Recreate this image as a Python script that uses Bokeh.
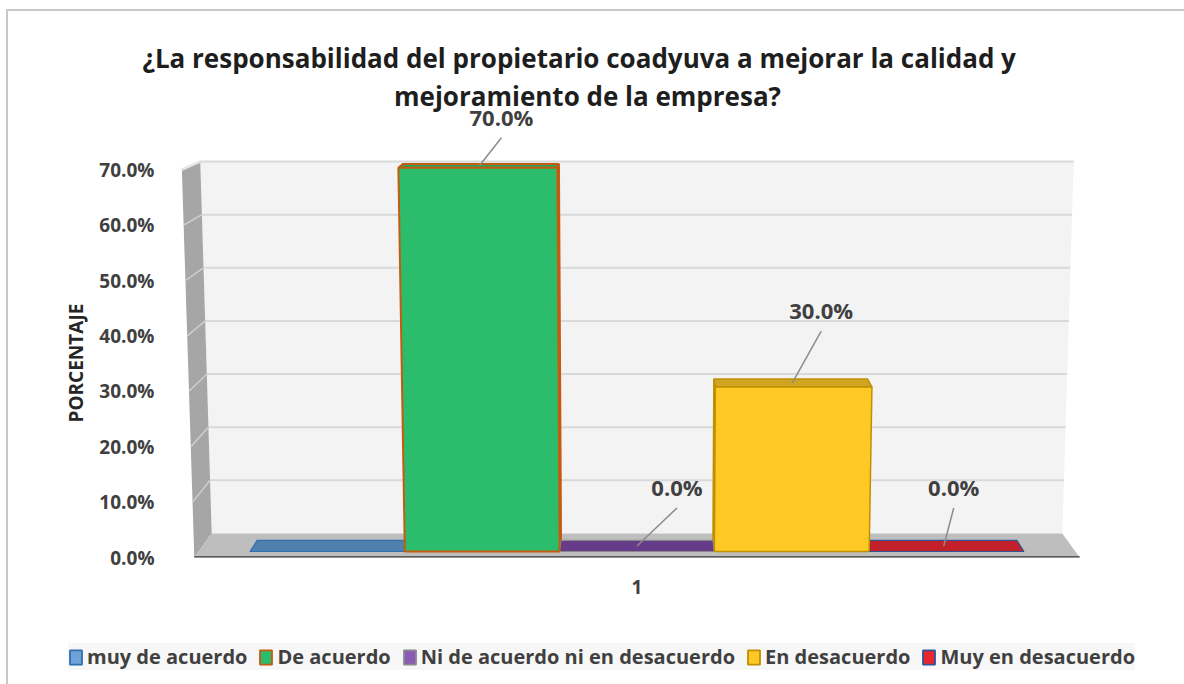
import math
from bokeh.plotting import figure
from bokeh.layouts import column
from bokeh.models import (ColumnDataSource, Range1d, FixedTicker, NumeralTickFormatter,
                          Legend, LegendItem, Title)
from bokeh.core.properties import value
from bokeh.embed import file_html
from bokeh.resources import INLINE

# ---------------- data ----------------
title_line1 = "¿La responsabilidad  del propietario coadyuva a mejorar la calidad y"
title_line2 = "mejoramiento de la empresa?"
categories = ["muy de acuerdo", "De acuerdo", "Ni de acuerdo ni en desacuerdo",
              "En desacuerdo", "Muy en desacuerdo"]
values = [0.0, 0.70, 0.0, 0.30, 0.0]
x_category_label = "1"
y_ticks = [0.0, 0.1, 0.2, 0.3, 0.4, 0.5, 0.6, 0.7]
y_axis_title = "PORCENTAJE"

# ---------------- styles ----------------
front_fill = ["#6fa3d8", "#2bbd6b", "#8b5bb5", "#ffc925", "#e8262c"]
top_fill = ["#5080ae", "#21a95b", "#663b8a", "#d1a423", "#c2202b"]
side_fill = ["#4a77a3", "#1f9a53", "#5a3379", "#e0ad14", "#a81c25"]
edge_color = ["#2e6fb3", "#c55a11", "#8a8a8a", "#bf9000", "#2f5597"]
edge_width = [1.2, 2.0, 1.2, 1.5, 1.2]
show_label = [False, True, True, True, True]
label_offset_px = [(0, -60), (22, -49), (40, -59), (29, -73), (10, -59)]
FONT = "Open Sans"
TXT = "#404040"
FRAME_LINE = "#c8c8c8"

# ---------------- 3-D projection (page pixels) ----------------
PX_X0, PX_W = 245.0, 156.6      # front plane: slot 0 left edge, px per slot
PX_Y0, PX_S = 557.0, 554.0      # front plane: value 0, px per unit value
n = len(values)
VX = PX_X0 + n / 2 * PX_W
VY = -30.0
K = 0.041
A = 7.24e-5
YREF = 532.0
BAR_Z = (0.25, 0.71)
FLOOR_X = (-0.332, n + 0.332)
WALL_TOP = max(y_ticks)

W, H1, H2 = 1184, 630, 54
FRAME_L, FRAME_R, FRAME_T, FRAME_B = 172.0, 1092.0, 78.0, 557.0


def to_data(px, py):
    return (px - PX_X0) / PX_W, (PX_Y0 - py) / PX_S


def proj(x, v, z):
    xf = PX_X0 + x * PX_W
    yf = PX_Y0 - v * PX_S
    s = 1 - K * z
    xp = VX + (xf - VX) * s
    yp = VY + (yf - VY) * s
    xs = VX + (xp - VX) * (1 + A * (YREF - yp))
    return to_data(xs, yp)


def poly(pts):
    P = [proj(*q) for q in pts]
    return [a for a, b in P], [b for a, b in P]


p = figure(width=W, height=H1,
           x_range=Range1d((FRAME_L - PX_X0) / PX_W, (FRAME_R - PX_X0) / PX_W),
           y_range=Range1d(0, (PX_Y0 - FRAME_T) / PX_S),
           output_backend="svg", toolbar_location=None,
           min_border_left=int(FRAME_L), min_border_right=int(W - FRAME_R),
           min_border_top=int(FRAME_T), min_border_bottom=int(H1 - FRAME_B))
p.frame_align = False
p.grid.visible = False
p.outline_line_color = None
p.background_fill_color = "white"
p.border_fill_color = None

xl, xr = FLOOR_X
# back wall
bx, by = poly([(xl, 0, 1), (xr, 0, 1), (xr, WALL_TOP, 1), (xl, WALL_TOP, 1)])
p.patch(bx, by, fill_color="#f3f3f3", line_color=None)
g0 = [proj(xl, t, 1) for t in y_ticks[1:]]
g1 = [proj(xr, t, 1) for t in y_ticks[1:]]
p.segment([a[0] for a in g0], [a[1] for a in g0], [b[0] for b in g1], [b[1] for b in g1],
          line_color="#d9d9d9", line_width=2)
# left wall
lx, ly = poly([(xl, 0, 0), (xl, 0, 1), (xl, WALL_TOP, 1), (xl, WALL_TOP, 0)])
p.patch(lx, ly, fill_color="#a6a6a6", line_color=None)
w0 = [proj(xl, t, 0) for t in y_ticks[1:]]
w1 = [proj(xl, t, 1) for t in y_ticks[1:]]
p.segment([a[0] for a in w0], [a[1] for a in w0], [b[0] for b in w1], [b[1] for b in w1],
          line_color="#cfcfcf", line_width=1.5)
tx0, ty0 = proj(xl, WALL_TOP, 0)
tx1, ty1 = proj(xl, WALL_TOP, 1)
p.segment([tx0], [ty0], [tx1], [ty1], line_color="#e4e4e4", line_width=2.5)
# floor
fx, fy = poly([(xl, 0, 0), (xr, 0, 0), (xr, 0, 1), (xl, 0, 1)])
p.patch(fx, fy, fill_color="#bebebe", line_color=None)

# bars
z0, z1 = BAR_Z
side_xs, side_ys, top_xs, top_ys, fr_xs, fr_ys = [], [], [], [], [], []
for i, v in enumerate(values):
    a, b = i, i + 1
    if PX_X0 + b * PX_W <= VX:
        sx, sy = poly([(b, 0, z0), (b, 0, z1), (b, v, z1), (b, v, z0)])
    else:
        sx, sy = poly([(a, 0, z0), (a, 0, z1), (a, v, z1), (a, v, z0)])
    side_xs.append(sx); side_ys.append(sy)
    t_x, t_y = poly([(a, v, z0), (b, v, z0), (b, v, z1), (a, v, z1)])
    top_xs.append(t_x); top_ys.append(t_y)
    f_x, f_y = poly([(a, 0, z0), (b, 0, z0), (b, v, z0), (a, v, z0)])
    fr_xs.append(f_x); fr_ys.append(f_y)

src_side = ColumnDataSource(dict(xs=side_xs, ys=side_ys, fill=side_fill, line=edge_color, lw=edge_width))
src_top = ColumnDataSource(dict(xs=top_xs, ys=top_ys, fill=top_fill, line=edge_color, lw=edge_width))
src_front = ColumnDataSource(dict(xs=fr_xs, ys=fr_ys, fill=front_fill, line=edge_color, lw=edge_width))
p.patches("xs", "ys", source=src_side, fill_color="fill", line_color="line", line_width="lw")
p.patches("xs", "ys", source=src_top, fill_color="fill", line_color="line", line_width="lw")
p.patches("xs", "ys", source=src_front, fill_color="fill", line_color="line", line_width="lw")

# base line (front edge of floor)
bl0 = proj(xl, 0, 0)
bl1 = proj(xr, 0, 0)
p.segment([bl0[0]], [bl0[1]], [bl1[0]], [bl1[1]], line_color="#3b3b3b", line_width=2.5)

# second title line (inside the frame, drawn before the data labels)
tx, ty = to_data(587, 95)
p.text([tx], [ty], text=[title_line2], text_font=value(FONT), text_font_style="bold",
       text_font_size="26px", text_color="#1e1e1e", text_align="center", text_baseline="middle")

# data labels with leader lines
lab_x, lab_y, lab_t, ld_x0, ld_y0, ld_x1, ld_y1 = [], [], [], [], [], [], []
for i, v in enumerate(values):
    if not show_label[i]:
        continue
    ax, ay = proj(i + 0.5, v, (z0 + z1) / 2)
    dx, dy = label_offset_px[i]
    lx_ = ax + dx / PX_W
    ly_ = ay - dy / PX_S
    lab_x.append(lx_); lab_y.append(ly_); lab_t.append(f"{v * 100:.1f}%")
    ld_x0.append(ax); ld_y0.append(ay)
    ld_x1.append(lx_); ld_y1.append(ly_ - 21 / PX_S)
p.segment(ld_x0, ld_y0, ld_x1, ld_y1, line_color="#8c8c8c", line_width=1.5)
p.text(lab_x, lab_y, text=lab_t, text_font=value(FONT), text_font_style="bold",
       text_font_size="22px", text_color=TXT, text_align="center", text_baseline="middle")

# first title line in the panel above
p.add_layout(Title(text=title_line1, align="left", offset=-30, text_font=FONT,
                   text_font_style="bold", text_font_size="26px", text_color="#1e1e1e",
                   standoff=6), "above")

# axes
yax = p.yaxis[0]
yax.ticker = FixedTicker(ticks=y_ticks)
yax.formatter = NumeralTickFormatter(format="0.0%")
yax.axis_line_color = None
yax.major_tick_line_color = None
yax.minor_tick_line_color = None
yax.major_label_standoff = 12
yax.major_label_text_font = FONT
yax.major_label_text_font_style = "bold"
yax.major_label_text_font_size = "19px"
yax.major_label_text_color = TXT

p.add_layout(Title(text=y_axis_title, align="left", offset=FRAME_B - 422,
                   vertical_align="middle", text_font=FONT, text_font_style="bold",
                   text_font_size="19px", text_color="#262626", standoff=14), "left")

xax = p.xaxis[0]
xax.ticker = FixedTicker(ticks=[n / 2])
xax.major_label_overrides = {n / 2: x_category_label}
xax.axis_line_color = None
xax.major_tick_line_color = None
xax.minor_tick_line_color = None
xax.major_label_standoff = 16
xax.major_label_text_font = FONT
xax.major_label_text_font_style = "bold"
xax.major_label_text_font_size = "19px"
xax.major_label_text_color = TXT

# legend in a strip below the chart
p2 = figure(width=W, height=H2, x_range=Range1d(0, 1), y_range=Range1d(0, 1),
            output_backend="svg", toolbar_location=None,
            x_axis_location=None, y_axis_location=None,
            min_border_left=0, min_border_right=0, min_border_top=0, min_border_bottom=0)
p2.frame_align = False
p2.grid.visible = False
p2.outline_line_color = None
p2.background_fill_color = None
p2.border_fill_color = None
src_leg = ColumnDataSource(dict(xs=[[] for _ in categories], ys=[[] for _ in categories],
                                fill=front_fill, line=edge_color))
leg_r = p2.patches("xs", "ys", source=src_leg, fill_color="fill", line_color="line", line_width=1.8)
items = [LegendItem(label=c, renderers=[leg_r], index=i) for i, c in enumerate(categories)]
legend = Legend(items=items, orientation="horizontal", location=(68, 14),
                background_fill_color="#f7f7f7", background_fill_alpha=1.0,
                border_line_color=None, label_text_font=FONT, label_text_font_style="bold",
                label_text_font_size="20px", label_text_color=TXT,
                glyph_width=15, glyph_height=18, label_standoff=4, spacing=11,
                padding=6, margin=0)
p2.add_layout(legend, "center")

layout = column(p, p2, spacing=0)
# thin chart-area border (top and left edges), painted behind the transparent plot borders
layout.styles = {
    "background": (f"linear-gradient({FRAME_LINE},{FRAME_LINE}) 6px 9px / 2px 100% no-repeat, "
                   f"linear-gradient({FRAME_LINE},{FRAME_LINE}) 6px 9px / 100% 2px no-repeat, white")
}
open("out.html", "w").write(file_html(layout, INLINE))
